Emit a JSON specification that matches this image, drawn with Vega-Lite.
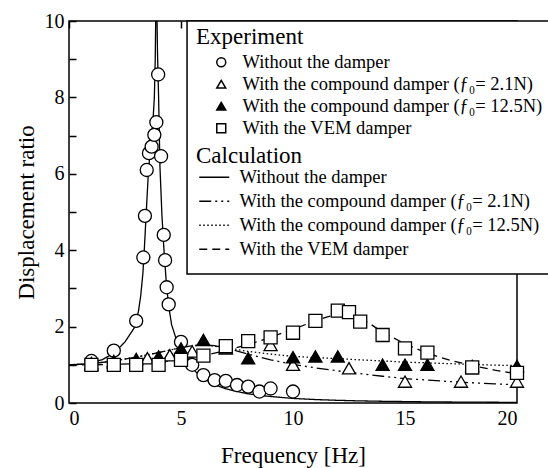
{
  "$schema": "https://vega.github.io/schema/vega-lite/v6.json",
  "width": 448,
  "height": 382,
  "autosize": "none",
  "padding": {"left": 69, "top": 21, "right": 31, "bottom": 65},
  "background": "white",
  "config": {
    "font": "Liberation Serif",
    "view": {"stroke": "black", "strokeWidth": 1.5},
    "axis": {
      "zindex": 1,
      "domain": false,
      "ticks": false,
      "grid": true,
      "gridColor": "black",
      "gridOpacity": 1,
      "gridWidth": 1.5,
      "gridDash": [7, 2000],
      "labelColor": "black",
      "labelFontSize": 20,
      "titleColor": "black",
      "titleFontSize": 23,
      "titleFontWeight": "normal"
    },
    "legend": {
      "orient": "none",
      "padding": 0,
      "titleFontWeight": "normal",
      "titleFontSize": 23,
      "titleColor": "black",
      "labelColor": "black",
      "labelFontSize": 18.5,
      "labelLimit": 400,
      "titlePadding": 4,
      "rowPadding": 3,
      "symbolStrokeColor": "black",
      "symbolStrokeWidth": 1.5
    }
  },
  "datasets": {
    "calc": [
      {"f": 0, "v": 1.0, "calculation": "none"},
      {"f": 0.5, "v": 1.01, "calculation": "none"},
      {"f": 1, "v": 1.05, "calculation": "none"},
      {"f": 1.5, "v": 1.14, "calculation": "none"},
      {"f": 2, "v": 1.3, "calculation": "none"},
      {"f": 2.5, "v": 1.6, "calculation": "none"},
      {"f": 2.95, "v": 2.0, "calculation": "none"},
      {"f": 3.1, "v": 2.4, "calculation": "none"},
      {"f": 3.2, "v": 2.8, "calculation": "none"},
      {"f": 3.3, "v": 3.4, "calculation": "none"},
      {"f": 3.36, "v": 4.0, "calculation": "none"},
      {"f": 3.45, "v": 5.0, "calculation": "none"},
      {"f": 3.54, "v": 6.0, "calculation": "none"},
      {"f": 3.65, "v": 6.8, "calculation": "none"},
      {"f": 3.75, "v": 7.4, "calculation": "none"},
      {"f": 3.81, "v": 8.0, "calculation": "none"},
      {"f": 3.85, "v": 9.0, "calculation": "none"},
      {"f": 3.88, "v": 10.5, "calculation": "none"},
      {"f": 3.9, "v": 12.0, "calculation": "none"},
      {"f": 3.92, "v": 10.4, "calculation": "none"},
      {"f": 3.95, "v": 9.2, "calculation": "none"},
      {"f": 4.0, "v": 8.0, "calculation": "none"},
      {"f": 4.06, "v": 6.2, "calculation": "none"},
      {"f": 4.15, "v": 4.9, "calculation": "none"},
      {"f": 4.24, "v": 4.0, "calculation": "none"},
      {"f": 4.35, "v": 3.1, "calculation": "none"},
      {"f": 4.45, "v": 2.55, "calculation": "none"},
      {"f": 4.58, "v": 2.05, "calculation": "none"},
      {"f": 4.8, "v": 1.65, "calculation": "none"},
      {"f": 5.0, "v": 1.38, "calculation": "none"},
      {"f": 5.25, "v": 1.1, "calculation": "none"},
      {"f": 5.5, "v": 0.92, "calculation": "none"},
      {"f": 5.75, "v": 0.76, "calculation": "none"},
      {"f": 6, "v": 0.64, "calculation": "none"},
      {"f": 6.5, "v": 0.48, "calculation": "none"},
      {"f": 7, "v": 0.37, "calculation": "none"},
      {"f": 7.5, "v": 0.3, "calculation": "none"},
      {"f": 8, "v": 0.24, "calculation": "none"},
      {"f": 8.5, "v": 0.2, "calculation": "none"},
      {"f": 9, "v": 0.17, "calculation": "none"},
      {"f": 10, "v": 0.12, "calculation": "none"},
      {"f": 11, "v": 0.09, "calculation": "none"},
      {"f": 12, "v": 0.07, "calculation": "none"},
      {"f": 13, "v": 0.055, "calculation": "none"},
      {"f": 14, "v": 0.045, "calculation": "none"},
      {"f": 16, "v": 0.03, "calculation": "none"},
      {"f": 18, "v": 0.022, "calculation": "none"},
      {"f": 20, "v": 0.017, "calculation": "none"},

      {"f": 0, "v": 1.0, "calculation": "compound 2.1N"},
      {"f": 1, "v": 1.03, "calculation": "compound 2.1N"},
      {"f": 2, "v": 1.1, "calculation": "compound 2.1N"},
      {"f": 3, "v": 1.2, "calculation": "compound 2.1N"},
      {"f": 4, "v": 1.32, "calculation": "compound 2.1N"},
      {"f": 5, "v": 1.45, "calculation": "compound 2.1N"},
      {"f": 5.5, "v": 1.5, "calculation": "compound 2.1N"},
      {"f": 6, "v": 1.52, "calculation": "compound 2.1N"},
      {"f": 6.5, "v": 1.5, "calculation": "compound 2.1N"},
      {"f": 7, "v": 1.44, "calculation": "compound 2.1N"},
      {"f": 8, "v": 1.28, "calculation": "compound 2.1N"},
      {"f": 9, "v": 1.13, "calculation": "compound 2.1N"},
      {"f": 10, "v": 1.01, "calculation": "compound 2.1N"},
      {"f": 11, "v": 0.92, "calculation": "compound 2.1N"},
      {"f": 12, "v": 0.84, "calculation": "compound 2.1N"},
      {"f": 13, "v": 0.77, "calculation": "compound 2.1N"},
      {"f": 14, "v": 0.7, "calculation": "compound 2.1N"},
      {"f": 15, "v": 0.64, "calculation": "compound 2.1N"},
      {"f": 16, "v": 0.6, "calculation": "compound 2.1N"},
      {"f": 17, "v": 0.56, "calculation": "compound 2.1N"},
      {"f": 18, "v": 0.53, "calculation": "compound 2.1N"},
      {"f": 19, "v": 0.5, "calculation": "compound 2.1N"},
      {"f": 20, "v": 0.48, "calculation": "compound 2.1N"},

      {"f": 0, "v": 1.0, "calculation": "compound 12.5N"},
      {"f": 1, "v": 1.03, "calculation": "compound 12.5N"},
      {"f": 2, "v": 1.1, "calculation": "compound 12.5N"},
      {"f": 3, "v": 1.2, "calculation": "compound 12.5N"},
      {"f": 4, "v": 1.32, "calculation": "compound 12.5N"},
      {"f": 5, "v": 1.45, "calculation": "compound 12.5N"},
      {"f": 5.5, "v": 1.5, "calculation": "compound 12.5N"},
      {"f": 6, "v": 1.52, "calculation": "compound 12.5N"},
      {"f": 7, "v": 1.45, "calculation": "compound 12.5N"},
      {"f": 8, "v": 1.35, "calculation": "compound 12.5N"},
      {"f": 9, "v": 1.28, "calculation": "compound 12.5N"},
      {"f": 10, "v": 1.22, "calculation": "compound 12.5N"},
      {"f": 11, "v": 1.19, "calculation": "compound 12.5N"},
      {"f": 12, "v": 1.16, "calculation": "compound 12.5N"},
      {"f": 13, "v": 1.13, "calculation": "compound 12.5N"},
      {"f": 14, "v": 1.1, "calculation": "compound 12.5N"},
      {"f": 15, "v": 1.07, "calculation": "compound 12.5N"},
      {"f": 16, "v": 1.05, "calculation": "compound 12.5N"},
      {"f": 17, "v": 1.03, "calculation": "compound 12.5N"},
      {"f": 18, "v": 1.01, "calculation": "compound 12.5N"},
      {"f": 19, "v": 0.99, "calculation": "compound 12.5N"},
      {"f": 20, "v": 0.98, "calculation": "compound 12.5N"},

      {"f": 0, "v": 1.0, "calculation": "VEM"},
      {"f": 1, "v": 1.0, "calculation": "VEM"},
      {"f": 2, "v": 1.01, "calculation": "VEM"},
      {"f": 3, "v": 1.03, "calculation": "VEM"},
      {"f": 4, "v": 1.07, "calculation": "VEM"},
      {"f": 5, "v": 1.14, "calculation": "VEM"},
      {"f": 6, "v": 1.24, "calculation": "VEM"},
      {"f": 7, "v": 1.37, "calculation": "VEM"},
      {"f": 8, "v": 1.53, "calculation": "VEM"},
      {"f": 9, "v": 1.72, "calculation": "VEM"},
      {"f": 10, "v": 1.93, "calculation": "VEM"},
      {"f": 11, "v": 2.15, "calculation": "VEM"},
      {"f": 11.5, "v": 2.25, "calculation": "VEM"},
      {"f": 12, "v": 2.32, "calculation": "VEM"},
      {"f": 12.5, "v": 2.32, "calculation": "VEM"},
      {"f": 13, "v": 2.22, "calculation": "VEM"},
      {"f": 13.5, "v": 2.05, "calculation": "VEM"},
      {"f": 14, "v": 1.85, "calculation": "VEM"},
      {"f": 15, "v": 1.55, "calculation": "VEM"},
      {"f": 16, "v": 1.3, "calculation": "VEM"},
      {"f": 17, "v": 1.12, "calculation": "VEM"},
      {"f": 18, "v": 0.98, "calculation": "VEM"},
      {"f": 19, "v": 0.86, "calculation": "VEM"},
      {"f": 20, "v": 0.76, "calculation": "VEM"}
    ],
    "exp": [
      {"f": 1, "v": 1.1, "experiment": "Without the damper"},
      {"f": 2, "v": 1.37, "experiment": "Without the damper"},
      {"f": 3, "v": 2.15, "experiment": "Without the damper"},
      {"f": 3.32, "v": 3.81, "experiment": "Without the damper"},
      {"f": 3.39, "v": 4.9, "experiment": "Without the damper"},
      {"f": 3.47, "v": 6.1, "experiment": "Without the damper"},
      {"f": 3.57, "v": 6.54, "experiment": "Without the damper"},
      {"f": 3.69, "v": 6.71, "experiment": "Without the damper"},
      {"f": 3.81, "v": 7.02, "experiment": "Without the damper"},
      {"f": 3.9, "v": 7.35, "experiment": "Without the damper"},
      {"f": 3.98, "v": 8.6, "experiment": "Without the damper"},
      {"f": 4.11, "v": 6.46, "experiment": "Without the damper"},
      {"f": 4.23, "v": 4.4, "experiment": "Without the damper"},
      {"f": 4.29, "v": 3.74, "experiment": "Without the damper"},
      {"f": 4.36, "v": 3.03, "experiment": "Without the damper"},
      {"f": 4.45, "v": 2.58, "experiment": "Without the damper"},
      {"f": 5.0, "v": 1.6, "experiment": "Without the damper"},
      {"f": 5.5, "v": 1.0, "experiment": "Without the damper"},
      {"f": 6, "v": 0.73, "experiment": "Without the damper"},
      {"f": 6.5, "v": 0.6, "experiment": "Without the damper"},
      {"f": 7, "v": 0.58, "experiment": "Without the damper"},
      {"f": 7.5, "v": 0.47, "experiment": "Without the damper"},
      {"f": 8, "v": 0.43, "experiment": "Without the damper"},
      {"f": 8.5, "v": 0.3, "experiment": "Without the damper"},
      {"f": 9, "v": 0.38, "experiment": "Without the damper"},
      {"f": 10, "v": 0.3, "experiment": "Without the damper"},

      {"f": 1, "v": 1.05, "experiment": "With the compound damper (ƒ₀= 2.1N)"},
      {"f": 2, "v": 1.1, "experiment": "With the compound damper (ƒ₀= 2.1N)"},
      {"f": 3.5, "v": 1.17, "experiment": "With the compound damper (ƒ₀= 2.1N)"},
      {"f": 4.5, "v": 1.25, "experiment": "With the compound damper (ƒ₀= 2.1N)"},
      {"f": 5.5, "v": 1.35, "experiment": "With the compound damper (ƒ₀= 2.1N)"},
      {"f": 7, "v": 1.43, "experiment": "With the compound damper (ƒ₀= 2.1N)"},
      {"f": 9, "v": 1.52, "experiment": "With the compound damper (ƒ₀= 2.1N)"},
      {"f": 10, "v": 1.0, "experiment": "With the compound damper (ƒ₀= 2.1N)"},
      {"f": 12.5, "v": 0.91, "experiment": "With the compound damper (ƒ₀= 2.1N)"},
      {"f": 15, "v": 0.56, "experiment": "With the compound damper (ƒ₀= 2.1N)"},
      {"f": 17.5, "v": 0.56, "experiment": "With the compound damper (ƒ₀= 2.1N)"},
      {"f": 20, "v": 0.56, "experiment": "With the compound damper (ƒ₀= 2.1N)"},

      {"f": 1, "v": 1.0, "experiment": "With the compound damper (ƒ₀= 12.5N)"},
      {"f": 2, "v": 1.07, "experiment": "With the compound damper (ƒ₀= 12.5N)"},
      {"f": 3, "v": 1.15, "experiment": "With the compound damper (ƒ₀= 12.5N)"},
      {"f": 4, "v": 1.22, "experiment": "With the compound damper (ƒ₀= 12.5N)"},
      {"f": 5, "v": 1.43, "experiment": "With the compound damper (ƒ₀= 12.5N)"},
      {"f": 6, "v": 1.65, "experiment": "With the compound damper (ƒ₀= 12.5N)"},
      {"f": 7, "v": 1.46, "experiment": "With the compound damper (ƒ₀= 12.5N)"},
      {"f": 8, "v": 1.17, "experiment": "With the compound damper (ƒ₀= 12.5N)"},
      {"f": 10, "v": 1.2, "experiment": "With the compound damper (ƒ₀= 12.5N)"},
      {"f": 11, "v": 1.22, "experiment": "With the compound damper (ƒ₀= 12.5N)"},
      {"f": 12, "v": 1.22, "experiment": "With the compound damper (ƒ₀= 12.5N)"},
      {"f": 14, "v": 1.0, "experiment": "With the compound damper (ƒ₀= 12.5N)"},
      {"f": 15, "v": 1.0, "experiment": "With the compound damper (ƒ₀= 12.5N)"},
      {"f": 16, "v": 1.0, "experiment": "With the compound damper (ƒ₀= 12.5N)"},
      {"f": 18, "v": 0.97, "experiment": "With the compound damper (ƒ₀= 12.5N)"},
      {"f": 20, "v": 0.97, "experiment": "With the compound damper (ƒ₀= 12.5N)"},

      {"f": 1, "v": 1.0, "experiment": "With the VEM damper"},
      {"f": 2, "v": 1.0, "experiment": "With the VEM damper"},
      {"f": 3, "v": 1.0, "experiment": "With the VEM damper"},
      {"f": 4, "v": 1.0, "experiment": "With the VEM damper"},
      {"f": 5, "v": 1.13, "experiment": "With the VEM damper"},
      {"f": 6, "v": 1.24, "experiment": "With the VEM damper"},
      {"f": 7, "v": 1.49, "experiment": "With the VEM damper"},
      {"f": 8, "v": 1.62, "experiment": "With the VEM damper"},
      {"f": 9, "v": 1.72, "experiment": "With the VEM damper"},
      {"f": 10, "v": 1.84, "experiment": "With the VEM damper"},
      {"f": 11, "v": 2.15, "experiment": "With the VEM damper"},
      {"f": 12, "v": 2.42, "experiment": "With the VEM damper"},
      {"f": 12.5, "v": 2.38, "experiment": "With the VEM damper"},
      {"f": 13, "v": 2.13, "experiment": "With the VEM damper"},
      {"f": 14, "v": 1.78, "experiment": "With the VEM damper"},
      {"f": 15, "v": 1.43, "experiment": "With the VEM damper"},
      {"f": 16, "v": 1.32, "experiment": "With the VEM damper"},
      {"f": 18, "v": 0.93, "experiment": "With the VEM damper"},
      {"f": 20, "v": 0.79, "experiment": "With the VEM damper"}
    ]
  },
  "layer": [
    {
      "data": {"name": "calc"},
      "mark": {"type": "line", "stroke": "black", "strokeWidth": 1.3, "clip": true},
      "encoding": {
        "x": {
          "field": "f", "type": "quantitative",
          "scale": {"domain": [0, 20], "nice": false},
          "axis": {"orient": "bottom", "values": [0, 5, 10, 15, 20], "title": "Frequency [Hz]", "labelPadding": 5, "titlePadding": 16}
        },
        "y": {
          "field": "v", "type": "quantitative",
          "scale": {"domain": [0, 10], "nice": false},
          "axis": {
            "orient": "left",
            "values": [0, 1, 2, 3, 4, 5, 6, 7, 8, 9, 10],
            "labelExpr": "datum.value % 2 === 0 ? datum.label : ''",
            "title": "Displacement ratio",
            "labelPadding": 5,
            "titlePadding": 6
          }
        },
        "strokeDash": {
          "field": "calculation", "type": "nominal",
          "scale": {
            "domain": ["none", "compound 2.1N", "compound 12.5N", "VEM"],
            "range": [[1, 0], [12, 4, 2, 4, 2, 4], [1.5, 2.5], [8, 5]]
          },
          "legend": {
            "title": "Calculation",
            "legendX": 127,
            "legendY": 124,
            "symbolType": "M-2,0H2",
            "symbolSize": 225,
            "symbolOffset": 9,
            "labelOffset": 16,
            "rowPadding": 5,
            "titlePadding": 0,
            "labelExpr": "datum.label === 'none' ? 'Without the damper' : datum.label === 'compound 2.1N' ? 'With the compound damper (ƒ₀= 2.1N)' : datum.label === 'compound 12.5N' ? 'With the compound damper (ƒ₀= 12.5N)' : 'With the VEM damper'"
          }
        }
      }
    },
    {
      "data": {"name": "exp"},
      "mark": {"type": "point", "stroke": "black", "strokeWidth": 1.3, "opacity": 1, "size": 170},
      "encoding": {
        "x": {"field": "f", "type": "quantitative"},
        "y": {
          "field": "v", "type": "quantitative",
          "axis": {"orient": "right", "values": [0, 1, 2, 3], "labels": false, "title": null}
        },
        "shape": {
          "field": "experiment", "type": "nominal",
          "scale": {
            "domain": ["Without the damper", "With the compound damper (ƒ₀= 2.1N)", "With the compound damper (ƒ₀= 12.5N)", "With the VEM damper"],
            "range": ["circle", "triangle-up", "triangle-up", "square"]
          },
          "legend": {"title": "Experiment", "legendX": 127, "legendY": 5, "symbolSize": 80, "symbolOffset": 16, "labelOffset": 12}
        },
        "fill": {
          "field": "experiment", "type": "nominal",
          "scale": {
            "domain": ["Without the damper", "With the compound damper (ƒ₀= 2.1N)", "With the compound damper (ƒ₀= 12.5N)", "With the VEM damper"],
            "range": ["white", "white", "black", "white"]
          },
          "legend": {"title": "Experiment", "legendX": 127, "legendY": 5, "symbolSize": 80, "symbolOffset": 16, "labelOffset": 12}
        },
        "stroke": {
          "field": "experiment", "type": "nominal",
          "scale": {
            "domain": ["Without the damper", "With the compound damper (ƒ₀= 2.1N)", "With the compound damper (ƒ₀= 12.5N)", "With the VEM damper"],
            "range": ["black", "black", "black", "black"]
          },
          "legend": {"title": "Experiment", "legendX": 127, "legendY": 5, "symbolSize": 80, "symbolOffset": 16, "labelOffset": 12}
        }
      }
    },
    {
      "description": "Frame around the two legends",
      "data": {"values": [{}]},
      "mark": {"type": "rect", "fill": "white", "stroke": "black", "strokeWidth": 1.5, "clip": false},
      "encoding": {
        "x": {"datum": 5.27, "type": "quantitative"},
        "x2": {"datum": 21.6},
        "y": {"datum": 3.38, "type": "quantitative", "axis": null},
        "y2": {"datum": 10}
      }
    }
  ],
  "resolve": {"axis": {"y": "independent"}}
}
